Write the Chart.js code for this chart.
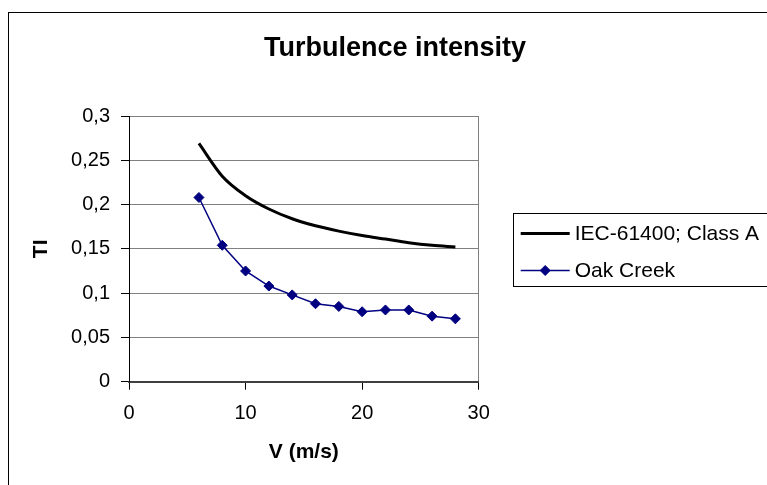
<!DOCTYPE html>
<html>
<head>
<meta charset="utf-8">
<script src="https://cdn.jsdelivr.net/npm/chart.js@4/dist/chart.umd.min.js"></script>
<style>
  html, body { margin: 0; padding: 0; background: #fff; }
  #wrap { width: 767px; height: 485px; }
</style>
</head>
<body>
<div id="wrap"><canvas id="tiChart" width="767" height="485"></canvas></div>
<script>
// wind speed (m/s)
const windSpeed = [6, 8, 10, 12, 14, 16, 18, 20, 22, 24, 26, 28];
// IEC-61400 class A reference curve
const iecClassA = [0.269, 0.232, 0.210, 0.195, 0.184, 0.176, 0.170, 0.165, 0.161, 0.157, 0.154, 0.152];
// measured at Oak Creek
const oakCreek = [0.208, 0.154, 0.125, 0.108, 0.098, 0.088, 0.085, 0.079, 0.081, 0.081, 0.074, 0.071];

const yTickLabels = ['0', '0,05', '0,1', '0,15', '0,2', '0,25', '0,3'];
const xTickLabels = ['0', '10', '20', '30'];

const FONT = '"Liberation Sans", Arial, sans-serif';
const navy = '#000080';
const gridGrey = '#808080';

const toPoints = ys => windSpeed.map((x, i) => ({ x, y: ys[i] }));

// white background + the outer chart frame (runs off right/bottom edge like the original)
const frame = {
  id: 'frame',
  beforeDraw(chart) {
    const ctx = chart.ctx;
    ctx.save();
    ctx.fillStyle = '#fff';
    ctx.fillRect(0, 0, chart.width, chart.height);
    ctx.strokeStyle = '#000';
    ctx.lineWidth = 1;
    ctx.strokeRect(8.5, 12.5, chart.width + 20, chart.height + 20);
    ctx.restore();
  }
};

// boxed legend to the right of the plot, Excel style
const boxLegend = {
  id: 'boxLegend',
  afterDraw(chart) {
    const ctx = chart.ctx;
    const left = chart.chartArea.right + 34;
    const top = 213.5;
    const rowH = 37;
    ctx.save();
    ctx.strokeStyle = '#000';
    ctx.lineWidth = 1;
    ctx.strokeRect(Math.round(left) + 0.5, top, chart.width, 73);
    ctx.font = '21px ' + FONT;
    ctx.textBaseline = 'middle';
    chart.data.datasets.forEach((ds, i) => {
      const y = top + 20 + i * rowH;
      const x0 = left + 8, x1 = left + 57;
      ctx.strokeStyle = ds.borderColor;
      ctx.lineWidth = ds.borderWidth;
      ctx.beginPath();
      ctx.moveTo(x0, y);
      ctx.lineTo(x1, y);
      ctx.stroke();
      if (ds.pointRadius > 0) {
        ctx.fillStyle = ds.pointBackgroundColor;
        ctx.strokeStyle = ds.pointBorderColor;
        ctx.lineWidth = 1;
        Chart.helpers.drawPoint(ctx, { pointStyle: ds.pointStyle, radius: ds.pointRadius, borderWidth: 1 }, (x0 + x1) / 2, y);
      }
      ctx.fillStyle = '#000';
      ctx.fillText(ds.label, x1 + 5, y + 1);
    });
    ctx.restore();
  }
};

new Chart(document.getElementById('tiChart'), {
  type: 'line',
  data: {
    datasets: [
      {
        label: 'IEC-61400; Class A',
        data: toPoints(iecClassA),
        borderColor: '#000',
        borderWidth: 3,
        pointRadius: 0,
        cubicInterpolationMode: 'monotone',
        fill: false
      },
      {
        label: 'Oak Creek',
        data: toPoints(oakCreek),
        borderColor: navy,
        borderWidth: 1.5,
        pointStyle: 'rectRot',
        pointRadius: 5,
        pointBackgroundColor: navy,
        pointBorderColor: navy,
        pointBorderWidth: 1,
        fill: false
      }
    ]
  },
  options: {
    responsive: false,
    animation: false,
    layout: { padding: { left: 23, top: 0, right: 0, bottom: 0 } },
    plugins: {
      legend: { display: false },
      tooltip: { enabled: false },
      title: {
        display: true,
        text: 'Turbulence intensity',
        color: '#000',
        font: { family: FONT, size: 27, weight: 'bold' },
        padding: { top: 32, bottom: 51.6 }
      }
    },
    scales: {
      x: {
        type: 'linear',
        min: 0,
        max: 30,
        afterFit(scale) { scale.height = 103.3; },
        ticks: {
          stepSize: 10,
          color: '#000',
          padding: 12,
          maxRotation: 0,
          font: { family: FONT, size: 20 },
          callback: (v, i) => xTickLabels[i]
        },
        grid: {
          drawOnChartArea: true,
          color: c => (c.tick && c.tick.value === 30 ? gridGrey : 'rgba(0,0,0,0)'),
          tickColor: '#000',
          tickLength: 8
        },
        border: { color: '#404040', width: 2 },
        title: {
          display: true,
          text: 'V (m/s)',
          color: '#000',
          font: { family: FONT, size: 21, weight: 'bold' },
          padding: { top: 0, bottom: 20 }
        }
      },
      y: {
        min: 0,
        max: 0.3,
        afterFit(scale) { scale.width = 106; },
        ticks: {
          stepSize: 0.05,
          color: '#000',
          padding: 11,
          font: { family: FONT, size: 20 },
          callback: (v, i) => yTickLabels[i]
        },
        grid: {
          color: gridGrey,
          lineWidth: 1,
          tickColor: '#000',
          tickLength: 8
        },
        border: { color: '#000', width: 1 },
        title: {
          display: true,
          text: 'TI',
          color: '#000',
          font: { family: FONT, size: 21, weight: 'bold' },
          padding: { top: 6, bottom: 0 }
        }
      },
      // empty right-hand axis: only reserves the room where the legend sits
      spacer: {
        type: 'linear',
        position: 'right',
        display: true,
        afterFit(scale) { scale.width = 288.3; },
        ticks: { display: false },
        grid: { display: false, drawTicks: false },
        border: { display: false }
      }
    }
  },
  plugins: [frame, boxLegend]
});
</script>
</body>
</html>
